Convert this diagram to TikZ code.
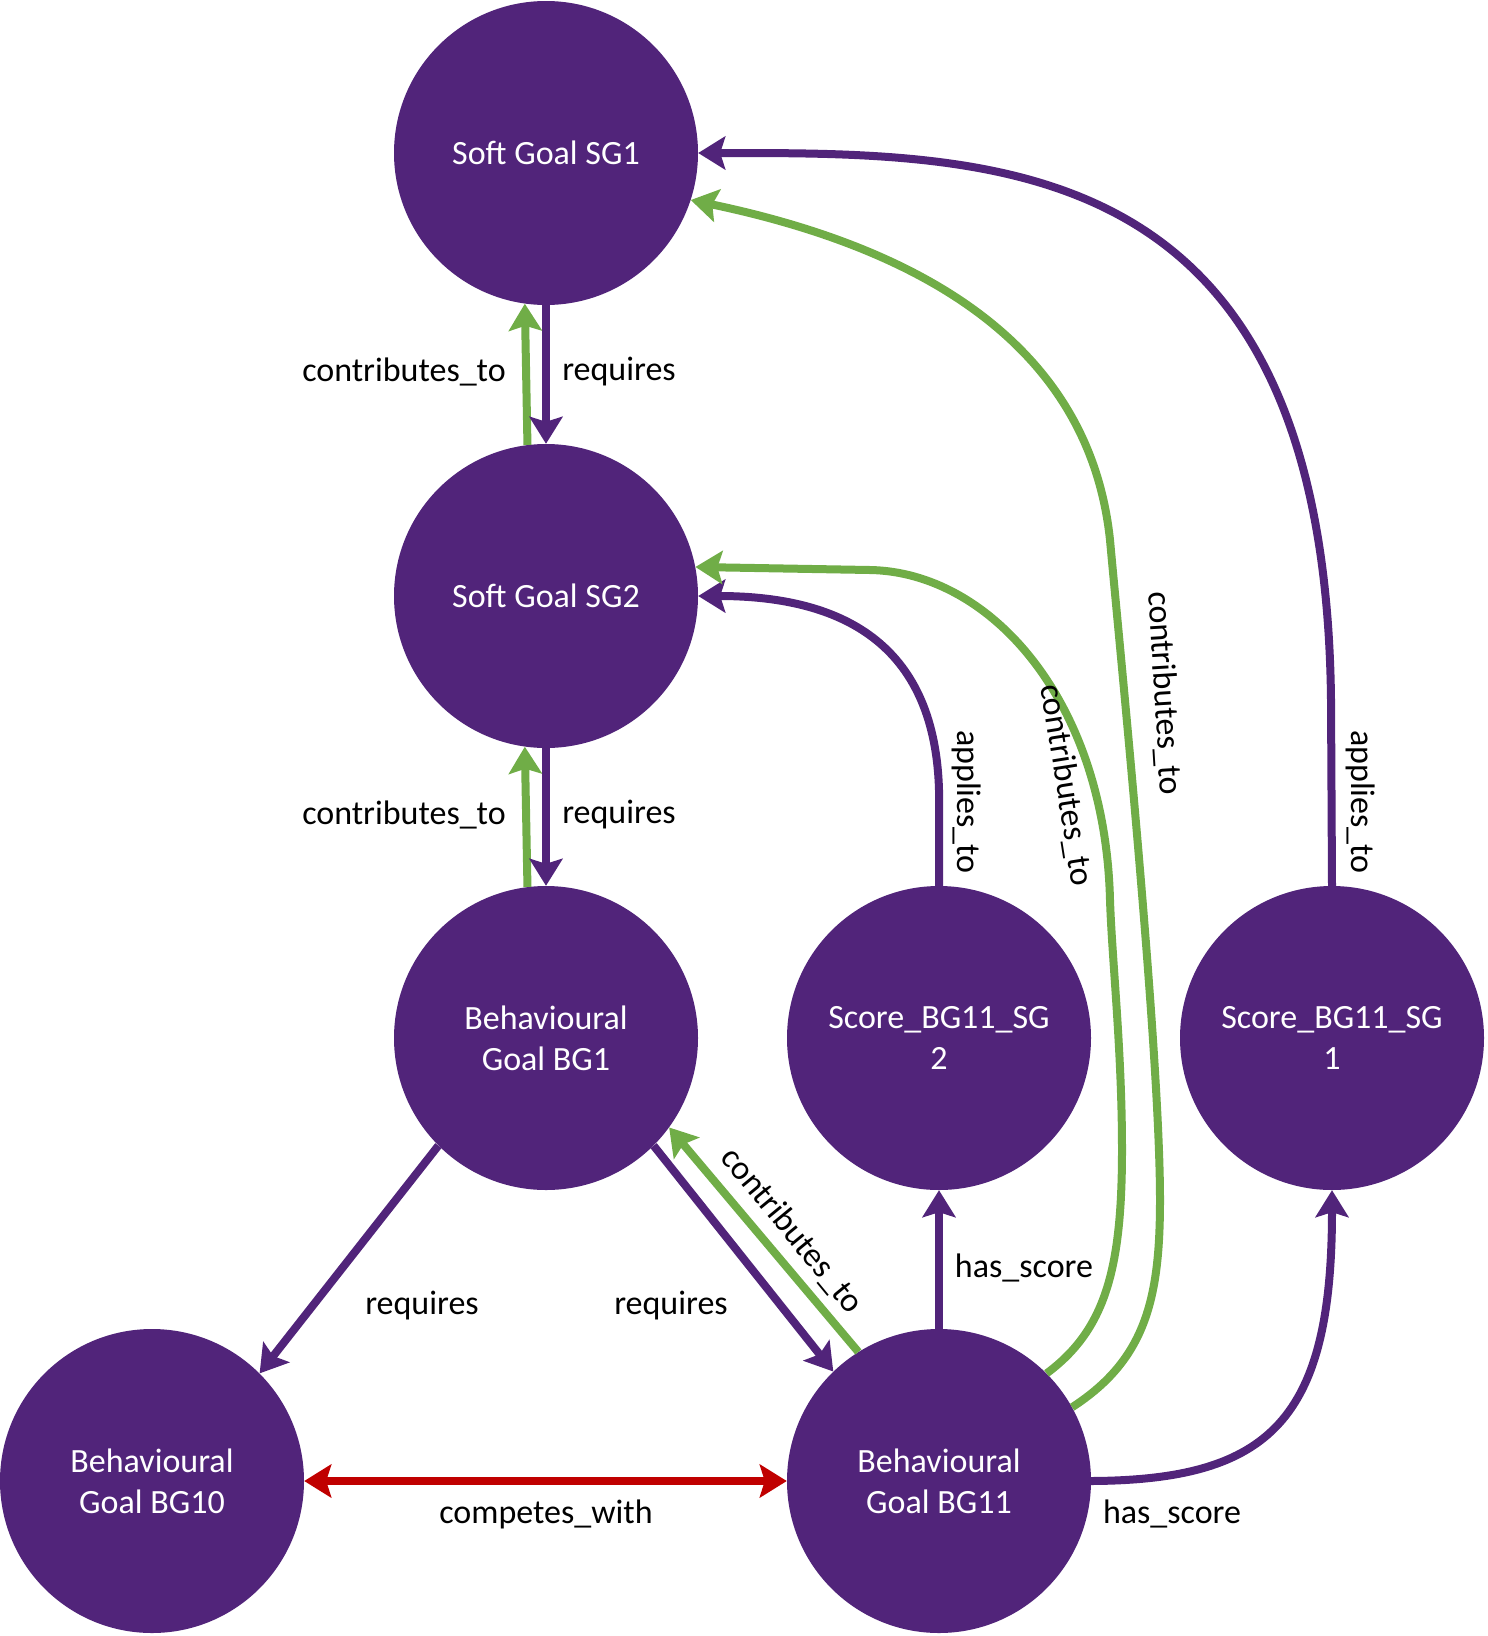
\documentclass[tikz,border=0pt]{standalone}
\usepackage{fontspec}
\setmainfont{Carlito}
\usetikzlibrary{arrows.meta}
\definecolor{purp}{RGB}{81,36,122}
\definecolor{grn}{RGB}{112,173,71}
\definecolor{redc}{RGB}{192,0,0}
\newcommand{\nfont}{\fontsize{34}{41}\selectfont}
\tikzset{
  goal/.style={circle, fill=purp, minimum size=304pt, inner sep=0pt, text=white, align=center, font=\nfont},
  lbl/.style={font=\nfont, inner sep=0pt, text=black},
  tipp/.style={-{Stealth[length=27pt,width=33pt,inset=5pt]}},
  preq/.style={draw=purp, line width=8pt, tipp},
  gcon/.style={draw=grn, line width=8pt, tipp},
  rcomp/.style={draw=redc, line width=8pt, {Stealth[length=27pt,width=33pt,inset=5pt]}-{Stealth[length=27pt,width=33pt,inset=5pt]}},
}
\begin{document}
\begin{tikzpicture}[x=1pt,y=-1pt]
\useasboundingbox (0,0) rectangle (1488,1636);
% nodes
\node[goal] (sg1) at (546,153) {Soft Goal SG1};
\node[goal] (sg2) at (546,596) {Soft Goal SG2};
\node[goal] (bg1) at (546,1038) {Behavioural\\Goal BG1};
\node[goal] (bg10) at (152,1481) {Behavioural\\Goal BG10};
\node[goal] (bg11) at (939,1481) {Behavioural\\Goal BG11};
\node[goal] (ss2) at (939,1038) {Score\_BG11\_SG\\2};
\node[goal] (ss1) at (1332,1038) {Score\_BG11\_SG\\1};
% straight connectors
\draw[gcon] (sg2.97.2) -- (sg1.262.8);
\draw[preq] (sg1.south) -- (sg2.north);
\draw[gcon] (bg1.97.2) -- (sg2.262.8);
\draw[preq] (sg2.south) -- (bg1.north);
\draw[preq] (bg1.-135) -- (bg10.45);
\draw[preq] (bg1.-45) -- (bg11.134);
\draw[gcon] (bg11.122) -- (bg1.-36);
\draw[rcomp] (bg10.east) -- (bg11.west);
\draw[preq] (bg11.north) -- (ss2.south);
% curved connectors
\draw[preq] (bg11.east) .. controls (1270,1480) and (1332,1420) .. (ss1.south);
\draw[preq] (ss2.north) -- (939,790) .. controls (935,650) and (850,596) .. (sg2.east);
\draw[preq] (ss1.north) -- (1331,700) .. controls (1325,150) and (1000,153) .. (sg1.east);
\draw[gcon] (bg11.45) .. controls (1105,1330) and (1122,1270) .. (1122,1150)
   .. controls (1122,1050) and (1112,960) .. (1110,900)
   .. controls (1105,700) and (990,572) .. (870,570) -- (sg2.11);
\draw[gcon] (bg11.29) .. controls (1145,1360) and (1160,1300) .. (1160,1200)
   .. controls (1160,1050) and (1120,650) .. (1110,540)
   .. controls (1090,350) and (930,250) .. (sg1.-18);
% labels
\node[lbl] (l1) at (404,372) {contributes\_to};
\node[lbl] (l2) at (619,372) {requires};
\node[lbl] (l3) at (404,815) {contributes\_to};
\node[lbl] (l4) at (619,815) {requires};
\node[lbl] (l5) at (422,1306) {requires};
\node[lbl] (l6) at (671,1306) {requires};
\node[lbl, rotate=-50.5] (l7) at (792,1231) {contributes\_to};
\node[lbl] (l8) at (546,1514) {competes\_with};
\node[lbl] (l9) at (1024,1268) {has\_score};
\node[lbl] (l10) at (1172,1514) {has\_score};
\node[lbl, rotate=-90] (l11) at (967,802) {applies\_to};
\node[lbl, rotate=-90] (l12) at (1361,802) {applies\_to};
\node[lbl, rotate=-81] (l13) at (1066,785) {contributes\_to};
\node[lbl, rotate=-86.5] (l14) at (1164,693) {contributes\_to};
\end{tikzpicture}
\end{document}
